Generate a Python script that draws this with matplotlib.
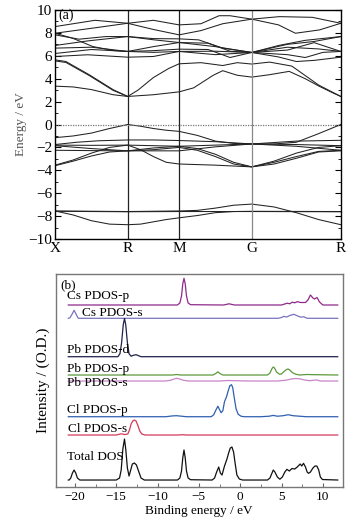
import numpy as np
import matplotlib
matplotlib.use("Agg")
import matplotlib.pyplot as plt
from matplotlib.ticker import MultipleLocator

plt.rcParams['font.family'] = ['Liberation Serif', 'DejaVu Serif']
plt.rcParams['axes.unicode_minus'] = True

# ---- (a) band structure ----
# path X-R-M-G-R, distances in units of 2pi/a
k_labels = ['X', 'R', 'M', 'G', 'R']
k_nodes = [0.0, 0.7071, 1.2071, 1.9142, 2.7802]

# each band: (segment position, energy); 0=X, 1=R, 2=M, 3=G, 4=R
bands = [
    # conduction
    [(0, 3.35), (0.25, 3.28), (0.5, 3.05), (0.8, 2.6), (1, 2.45), (1.5, 2.6), (2, 2.85), (2.2, 3.2), (2.47, 4.3),
     (2.6, 4.7), (2.8, 4.3), (3, 4.14), (3.2, 4.35), (3.42, 4.64), (3.6, 4.0), (3.76, 3.33), (3.9, 2.8), (4, 2.45)],
    [(0, 5.65), (0.15, 5.5), (0.47, 4.35), (0.8, 3.04), (1, 2.45), (1.2, 3.0), (1.5, 4.1), (1.8, 4.9), (2, 5.3),
     (2.3, 5.4), (2.6, 5.15), (2.8, 5.4), (3, 5.28), (3.2, 5.45), (3.45, 5.1), (3.75, 3.45), (4, 2.45)],
    [(0, 5.55), (0.15, 5.42), (0.47, 4.28), (0.8, 2.98), (1, 2.45)],
    [(0, 5.94), (0.45, 6.09), (1, 5.88), (1.5, 5.94), (2, 6.38), (2.5, 6.4), (3, 6.29), (3.4, 7.0), (3.7, 7.25),
     (4, 7.68)],
    [(0, 6.2), (0.5, 6.55), (1, 6.38), (1.5, 6.3), (2, 6.38), (2.5, 6.1), (3, 6.29), (3.4, 6.1), (3.6, 5.85),
     (3.8, 6.3), (4, 6.38)],
    [(0, 6.67), (0.5, 6.75), (1, 6.38), (1.5, 6.45), (2, 6.58), (2.4, 6.55), (2.7, 5.85), (3, 6.29), (3.3, 5.9),
     (3.5, 5.5), (3.7, 5.6), (4, 5.88)],
    [(0, 7.97), (0.24, 7.54), (0.52, 6.81), (0.8, 6.46), (1, 6.38), (1.5, 6.8), (2, 7.16), (2.5, 6.8), (3, 6.29),
     (3.4, 6.75), (3.75, 6.6), (4, 6.38)],
    [(0, 7.83), (0.33, 7.45), (0.7, 7.68), (1, 7.68), (1.5, 7.5), (2, 7.48), (2.27, 7.39), (2.6, 6.67), (3, 6.29),
     (3.3, 6.9), (3.6, 7.35), (4, 7.68)],
    [(0, 6.9), (0.45, 7.3), (1, 7.68), (1.5, 7.4), (2, 7.16), (2.4, 7.1), (2.7, 6.4), (3, 6.29), (3.4, 6.5),
     (3.7, 7.15), (4, 6.38)],
    [(0, 8.55), (0.55, 9.1), (1, 8.84), (1.5, 9.1), (2, 8.7), (2.3, 8.8), (2.55, 9.5), (2.7, 9.5), (3, 9.2),
     (3.31, 9.42), (3.68, 9.36), (4, 8.84)],
    [(0, 7.97), (0.5, 8.4), (1, 8.84), (1.5, 8.3), (2, 7.83), (2.3, 8.2), (2.6, 8.8), (3, 9.2), (3.3, 8.7),
     (3.49, 7.97), (3.76, 8.26), (4, 8.84)],
    # valence
    [(0, -1.15), (0.25, -1.0), (0.5, -0.75), (0.75, -0.35), (1, 0), (1.25, -0.15), (1.5, -0.35), (1.75, -0.5),
     (2, -0.6), (2.25, -0.95), (2.5, -1.45), (2.75, -1.65), (3, -1.7), (3.25, -1.7), (3.5, -1.55), (3.75, -0.8),
     (4, 0)],
    [(0, -1.75), (0.3, -1.55), (0.6, -1.42), (1, -1.35), (1.5, -1.35), (2, -1.4), (2.5, -1.5), (3, -1.7),
     (3.5, -1.45), (4, -1.38)],
    [(0, -1.8), (0.5, -1.82), (1, -1.8), (1.5, -1.85), (2, -1.9), (2.5, -1.8), (3, -1.7), (3.5, -1.75), (4, -1.85)],
    [(0, -1.85), (0.5, -2.1), (1, -2.3), (1.5, -2.3), (2, -2.3), (2.5, -1.95), (3, -1.7), (3.5, -1.9), (4, -2.25)],
    [(0, -2.25), (0.5, -2.28), (1, -2.3), (1.5, -2.05), (2, -1.9), (2.25, -2.1), (2.5, -2.6), (2.75, -3.3),
     (3, -3.7), (3.25, -3.3), (3.5, -2.8), (3.75, -2.35), (4, -2.25)],
    [(0, -3.55), (0.25, -3.1), (0.5, -2.5), (0.75, -2.0), (1, -1.8), (1.25, -2.2), (1.5, -2.8), (1.75, -3.3),
     (2, -3.45), (2.5, -3.55), (3, -3.7), (3.25, -3.2), (3.5, -2.5), (3.75, -2.0), (4, -1.85)],
    [(0, -3.6), (0.25, -3.2), (0.5, -2.75), (0.75, -2.4), (1, -2.3), (1.5, -2.2), (2, -2.0), (2.25, -2.25),
     (2.5, -2.8), (2.75, -3.45), (3, -3.7), (3.25, -3.45), (3.5, -2.95), (3.75, -2.4), (4, -2.3)],
    # Cs p / lower
    [(0, -7.55), (0.25, -7.9), (0.5, -8.4), (0.75, -8.7), (1, -8.75), (1.25, -8.7), (1.5, -8.5), (1.75, -8.3),
     (2, -8.15), (2.25, -7.95), (2.5, -7.7), (2.75, -7.6), (3, -7.58), (4, -7.6)],
    [(0, -7.55), (1, -7.6), (2, -7.55), (2.25, -7.5), (2.5, -7.3), (2.75, -7.05), (3, -6.95), (3.25, -7.2),
     (3.5, -7.7), (3.75, -8.3), (4, -8.75)],
    [(0, -7.58), (1, -7.62), (2, -7.6), (3, -7.6), (4, -7.62)],
]

# ---- (b) DOS ----
cs_p_e = [-20.8, -7.6, -7.3, -7.1, -6.95, -6.8, -6.65, -6.5, -6.3, -6.0, -2.0, -1.35, -0.7, 5.0, 5.7, 6.0, 6.3,
          6.6, 6.9, 7.3, 7.9, 8.2, 8.5, 8.8, 9.0, 9.3, 9.6, 10.0, 11.8]
cs_p_i = [0, 0, 2, 9, 21, 26.7, 21, 9, 2, 0.3, 0, 1.2, 0, 0, 1.8, 1.2, 2.8, 2.2, 3.3, 2.5, 2.5, 5, 10, 7, 6,
          7.5, 3, 0, 0]
cs_s_e = [-20.8, -20.6, -20.35, -20.1, -19.85, -19.6, 4.6, 5.0, 5.3, 5.6, 6.0, 6.5, 6.9, 7.3, 7.7, 8.1, 11.8]
cs_s_i = [0, 0.5, 4, 8, 4, 0, 0, 0.8, 2, 1.2, 2.8, 4, 2.5, 1.2, 1.5, 0, 0]
pb_d_e = [-20.8, -14.8, -14.55, -14.35, -14.15, -14.0, -13.85, -13.65, -13.45, -13.2, -12.9, -12.6, -12.3,
          -12.0, 11.8]
pb_d_i = [0, 0, 3, 14, 32, 38.3, 32, 14, 3, 0.5, 1.5, 2, 1, 0, 0]
pb_p_e = [-20.8, -8.2, -7.7, -7.2, -3.3, -2.95, -2.7, -2.45, -2.1, 0, 3.3, 3.6, 3.85, 4.0, 4.15, 4.4, 4.75,
          5.0, 5.3, 5.6, 5.8, 6.0, 6.3, 6.7, 7.2, 8.0, 9.2, 11.8]
pb_p_i = [0, 0, 0.5, 0, 0, 1.5, 3.2, 1.5, 0, 0, 0, 2, 6.5, 8, 7, 3, 0.8, 1, 3.5, 5.5, 6, 5, 2.5, 0.8, 0,
          0.5, 0.3, 0]
pb_s_e = [-20.8, -9.0, -8.4, -8.0, -7.7, -7.3, -6.9, -6.3, -2.5, -1.5, 0, 1, 4.5, 5.5, 6.2, 6.7, 7.2, 7.8,
          8.4, 8.9, 9.3, 9.7, 11.8]
pb_s_i = [0, 0, 0.8, 2, 2.7, 2, 0.8, 0, 0, 0.5, 0.2, 0, 0, 0.8, 2, 2.5, 2.2, 1, 0.3, 0.8, 1, 0, 0]
cl_p_e = [-20.8, -9.0, -8.2, -7.7, -7.2, -6.5, -3.5, -3.2, -2.95, -2.7, -2.5, -2.3, -2.1, -1.9, -1.65, -1.45,
          -1.25, -1.05, -0.9, -0.7, -0.5, -0.25, 0.1, 0.5, 2.5, 3.5, 4.0, 4.5, 5.2, 5.8, 6.4, 7.2, 8.0, 11.8]
cl_p_i = [0, 0, 0.8, 1, 0.6, 0, 0, 2, 6.5, 10.5, 7, 4, 6, 15, 20, 26, 31, 32, 29, 18, 8, 2.5, 0.5, 0, 0, 0.5,
          1.3, 0.5, 1, 2, 1, 0.5, 0, 0]
cl_s_e = [-20.8, -15.0, -14.4, -14.0, -13.6, -13.4, -13.2, -13.0, -12.8, -12.6, -12.4, -12.15, -11.9, -11.5,
          -7.5, -7.0, -6.5, 11.8]
cl_s_i = [0, 0, 1.2, 0.5, 1, 5, 11, 14, 15, 14, 10, 4, 1, 0, 0, 0.3, 0, 0]
tot_e = [-20.8, -20.7, -20.5, -20.3, -20.1, -19.9, -19.7, -19.4, -15.0, -14.6, -14.4, -14.2, -14.0, -13.85,
         -13.65, -13.45, -13.25, -13.05, -12.8, -12.55, -12.3, -12.0, -11.6, -7.6, -7.3, -7.1, -6.95, -6.8,
         -6.65, -6.5, -6.3, -6.0, -3.4, -3.1, -2.85, -2.6, -2.4, -2.2, -1.9, -1.6, -1.4, -1.2, -1.0, -0.8, -0.6,
         -0.4, -0.1, 0.3, 3.3, 3.6, 3.85, 4.0, 4.2, 4.5, 4.8, 5.1, 5.4, 5.65, 5.95, 6.26, 6.6, 6.9, 7.26, 7.45,
         7.66, 7.9, 8.1, 8.27, 8.5, 8.8, 9.05, 9.28, 9.5, 9.7, 9.95, 11.8]
tot_i = [0, 0, 2, 7, 10, 7, 2, 0, 0, 2, 10, 31, 41, 31, 12, 4, 10, 16, 17, 15, 9, 2, 0, 0, 2, 9, 22, 30, 22,
         9, 2, 0.3, 0, 2, 8, 13, 7, 5, 14, 21, 27, 32, 33, 28, 16, 5, 1, 0, 0, 2, 7, 10, 8, 3, 0.8, 3, 8, 10.7,
         9, 11.5, 11, 13, 16, 14, 16.7, 13, 8, 6.7, 8, 12, 14, 14, 10, 3, 0.5, 0]

dos_names = ['Cs PDOS-p', 'Cs PDOS-s', 'Pb PDOS-d', 'Pb PDOS-p', 'Pb PDOS-s', 'Cl PDOS-p', 'Cl PDOS-s',
             'Total DOS']
dos_e = [cs_p_e, cs_s_e, pb_d_e, pb_p_e, pb_s_e, cl_p_e, cl_s_e, tot_e]
dos_i = [cs_p_i, cs_s_i, pb_d_i, pb_p_i, pb_s_i, cl_p_i, cl_s_i, tot_i]
offsets = [182, 168.7, 130.3, 112, 106, 70.3, 52, 7]
colors = ['#8e2a8a', '#7a72c0', '#20204a', '#5a9a3c', '#c884c8', '#2f5fb0', '#d23a5a', '#111111']
label_pos = [(-21.0, 190.5), (-19.1, 173.5), (-21.0, 137), (-21.0, 118.5), (-21.0, 104.5), (-21.0, 77),
             (-20.8, 58), (-21.0, 30.5)]

fig = plt.figure(figsize=(3.63, 5.26), dpi=100)

# top panel
ax1 = fig.add_axes([0.1515, 0.5456, 0.7874, 0.4354])
seg = np.arange(len(k_nodes))
for b in bands:
    s = np.array([p[0] for p in b])
    e = np.array([p[1] for p in b])
    ax1.plot(np.interp(s, seg, k_nodes), e, color='#222222', lw=0.75)
for i, k in enumerate(k_nodes[1:-1]):
    ax1.axvline(k, color='#888888' if i == 2 else '#222222', lw=0.9)
ax1.axhline(0, color='#777777', lw=0.9, ls=(0, (1, 1)))
ax1.set_xlim(k_nodes[0], k_nodes[-1])
ax1.set_ylim(-10, 10)
ax1.set_xticks(k_nodes)
ax1.set_xticklabels(k_labels, fontsize=11)
ax1.yaxis.set_major_locator(MultipleLocator(2))
ax1.yaxis.set_minor_locator(MultipleLocator(1))
ax1.tick_params(axis='x', length=0, pad=2)
ax1.tick_params(axis='y', which='both', direction='in', left=True, right=True, labelsize=11, pad=2)
ax1.tick_params(axis='y', which='major', length=4)
ax1.tick_params(axis='y', which='minor', length=2)
ax1.set_ylabel('Energy / eV', fontsize=9.5, color='#555555', labelpad=1)
ax1.text(0.012, 0.978, '(a)', transform=ax1.transAxes, fontsize=10, ha='left', va='center')
for sp in ax1.spines.values():
    sp.set_linewidth(1.0)

# bottom panel
ax2 = fig.add_axes([0.154, 0.0741, 0.79, 0.405])
for name, e, inten, off, c, (lx, ly) in zip(dos_names, dos_e, dos_i, offsets, colors, label_pos):
    ax2.plot(e, np.array(inten) + off, color=c, lw=0.9)
    ax2.text(lx, ly, name, fontsize=9.5, ha='left', va='center')
ax2.text(-21.8, 202, '(b)', fontsize=9.5, ha='left', va='center')
ax2.set_xlim(-22.3, 12.4)
ax2.set_ylim(0, 213)
ax2.set_yticks([])
ax2.xaxis.set_major_locator(MultipleLocator(5))
ax2.xaxis.set_minor_locator(MultipleLocator(2.5))
ax2.tick_params(axis='x', which='both', direction='in', labelsize=9.5, pad=3, color='#666666')
ax2.tick_params(axis='x', which='major', length=3)
ax2.tick_params(axis='x', which='minor', length=2)
ax2.set_xlabel('Binding energy / eV', fontsize=9.5, labelpad=1)
ax2.set_ylabel('Intensity / (O.D.)', fontsize=11, labelpad=4)
for sp in ax2.spines.values():
    sp.set_color('#777777')
    sp.set_linewidth(1.0)

fig.savefig('out.png', dpi=100)
